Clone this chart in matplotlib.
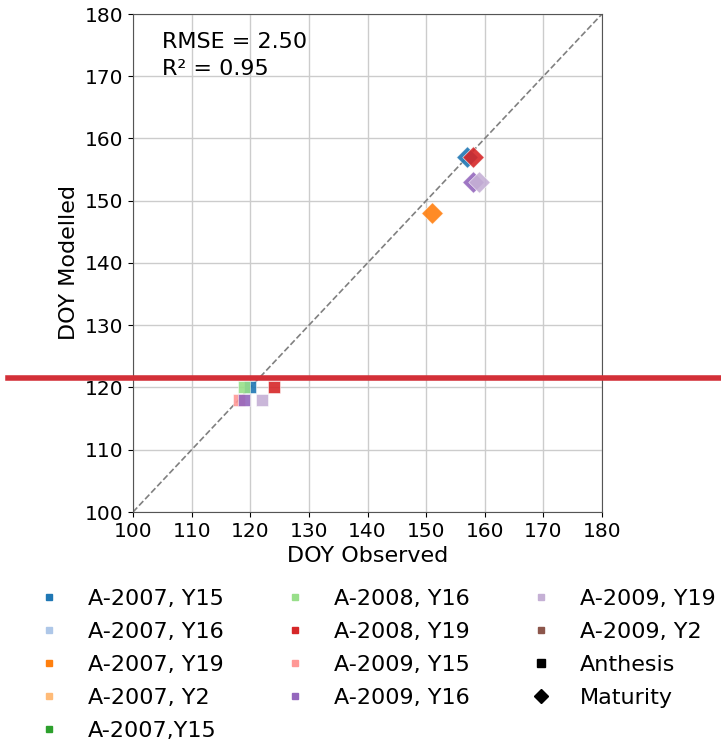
import matplotlib
matplotlib.use("Agg")
import matplotlib.pyplot as plt
from matplotlib.lines import Line2D

# series labels, in legend order
labels = ['A-2007, Y15', 'A-2007, Y16', 'A-2007, Y19', 'A-2007, Y2', 'A-2007,Y15',
          'A-2008, Y16', 'A-2008, Y19', 'A-2009, Y15', 'A-2009, Y16', 'A-2009, Y19',
          'A-2009, Y2']
colors = plt.cm.tab20.colors[:len(labels)]

# anthesis points (squares)
anth_labels = ['A-2007, Y15', 'A-2008, Y16', 'A-2008, Y19', 'A-2009, Y15', 'A-2009, Y16', 'A-2009, Y19']
anth_obs = [120, 119, 124, 118, 119, 122]
anth_mod = [120, 120, 120, 118, 118, 118]

# maturity points (diamonds)
mat_labels = ['A-2007, Y15', 'A-2008, Y19', 'A-2007, Y19', 'A-2009, Y16', 'A-2009, Y19']
mat_obs = [157, 158, 151, 158, 159]
mat_mod = [157, 157, 148, 153, 153]

rmse = 2.50
r2 = 0.95

fig = plt.figure(figsize=(7.21, 7.46), dpi=100)
ax = fig.add_axes([133 / 721, 1 - 512 / 746, 469 / 721, 498 / 746])

ax.plot([100, 180], [100, 180], '--', color='grey', lw=1.2, zorder=1)
for lab, x, y in zip(anth_labels, anth_obs, anth_mod):
    ax.scatter(x, y, marker='s', s=80, color=colors[labels.index(lab)],
               edgecolor='white', linewidth=0.4, alpha=0.9, zorder=3)
for lab, x, y in zip(mat_labels, mat_obs, mat_mod):
    ax.scatter(x, y, marker='D', s=120, color=colors[labels.index(lab)],
               edgecolor='white', linewidth=0.4, alpha=0.9, zorder=3)

ax.set_xlim(100, 180)
ax.set_ylim(100, 180)
ax.set_xticks(range(100, 181, 10))
ax.set_yticks(range(100, 181, 10))
ax.grid(True, color='#cccccc', lw=1)
ax.set_axisbelow(True)
ax.tick_params(labelsize=14.5)
ax.set_xlabel('DOY Observed', fontsize=16)
ax.set_ylabel('DOY Modelled', fontsize=16)
for sp in ax.spines.values():
    sp.set_color('#555555')

ax.text(105, 173.3, f'RMSE = {rmse:.2f}\nR² = {r2:.2f}', fontsize=16,
        va='center', ha='left', linespacing=1.45)

handles = [Line2D([], [], ls='', marker='s', ms=4, color=c) for c in colors]
handles += [Line2D([], [], ls='', marker='s', ms=5.5, color='black'),
            Line2D([], [], ls='', marker='D', ms=7.5, color='black')]
leg_labels = labels + ['Anthesis', 'Maturity']
fig.legend(handles, leg_labels, loc='upper left', bbox_to_anchor=(0.017, 0.237),
           ncol=3, frameon=False, fontsize=16, handlelength=1.5, handletextpad=1.0,
           columnspacing=2.45, labelspacing=0.58)

# red horizontal marker line across the figure
fig.add_artist(Line2D([8 / 721, 1], [1 - 378.5 / 746] * 2, color='#d33038', lw=4,
                      transform=fig.transFigure))

fig.savefig('out.png', dpi=100)
